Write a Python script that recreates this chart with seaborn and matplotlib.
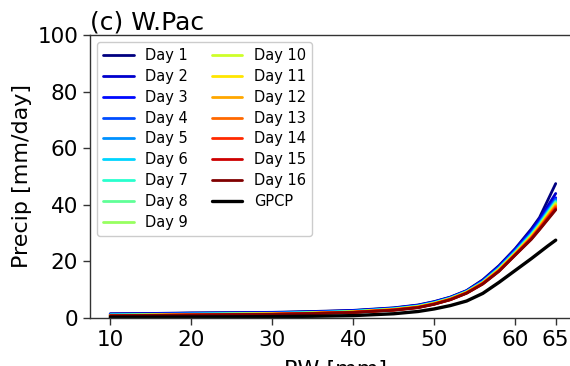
import numpy as np
import pandas as pd
import matplotlib
matplotlib.use("Agg")
import matplotlib.pyplot as plt
import seaborn as sns

pw = [10, 15, 20, 25, 30, 35, 40, 45, 48, 50, 52, 54, 56, 58, 60, 62, 63, 64, 65]

day01 = [1.5, 1.6, 1.8, 1.9, 2.0, 2.3, 2.7, 3.6, 4.6, 5.8, 7.4, 9.7, 13.5, 18.5, 24.5, 31.5, 35.5, 41.5, 47.5]
day02 = [1.4, 1.5, 1.7, 1.8, 1.9, 2.2, 2.6, 3.5, 4.5, 5.7, 7.3, 9.6, 13.3, 18.3, 24.3, 31.0, 35.0, 39.5, 44.0]
day03 = [1.3, 1.4, 1.6, 1.7, 1.8, 2.1, 2.5, 3.4, 4.4, 5.6, 7.2, 9.5, 13.1, 18.0, 24.0, 30.5, 34.2, 38.5, 42.5]
day04 = [1.2, 1.3, 1.5, 1.6, 1.7, 2.0, 2.4, 3.3, 4.3, 5.5, 7.1, 9.4, 12.9, 17.8, 23.7, 30.0, 33.8, 38.0, 42.0]
day05 = [1.1, 1.25, 1.4, 1.55, 1.65, 1.95, 2.35, 3.25, 4.2, 5.4, 7.0, 9.3, 12.8, 17.6, 23.5, 29.8, 33.5, 37.6, 41.5]
day06 = [1.05, 1.2, 1.35, 1.5, 1.6, 1.9, 2.3, 3.2, 4.15, 5.35, 6.95, 9.25, 12.7, 17.5, 23.3, 29.6, 33.2, 37.3, 41.2]
day07 = [1.0, 1.15, 1.3, 1.45, 1.55, 1.85, 2.25, 3.15, 4.1, 5.3, 6.9, 9.2, 12.6, 17.4, 23.1, 29.4, 33.0, 37.0, 41.0]
day08 = [0.95, 1.1, 1.25, 1.4, 1.5, 1.8, 2.2, 3.1, 4.05, 5.25, 6.85, 9.15, 12.5, 17.3, 23.0, 29.2, 32.8, 36.8, 40.8]
day09 = [0.9, 1.05, 1.2, 1.35, 1.45, 1.75, 2.15, 3.05, 4.0, 5.2, 6.8, 9.1, 12.45, 17.2, 22.9, 29.0, 32.6, 36.6, 40.5]
day10 = [0.88, 1.02, 1.18, 1.32, 1.42, 1.72, 2.12, 3.0, 3.95, 5.15, 6.75, 9.05, 12.4, 17.1, 22.8, 28.9, 32.4, 36.4, 40.3]
day11 = [0.85, 1.0, 1.15, 1.3, 1.4, 1.7, 2.1, 2.97, 3.9, 5.1, 6.7, 9.0, 12.35, 17.0, 22.7, 28.8, 32.3, 36.2, 40.0]
day12 = [0.83, 0.98, 1.12, 1.27, 1.37, 1.67, 2.07, 2.93, 3.85, 5.05, 6.65, 8.95, 12.3, 16.9, 22.6, 28.6, 32.1, 36.0, 39.7]
day13 = [0.8, 0.95, 1.1, 1.25, 1.35, 1.65, 2.05, 2.9, 3.8, 5.0, 6.6, 8.9, 12.25, 16.8, 22.5, 28.4, 31.9, 35.7, 39.3]
day14 = [0.78, 0.93, 1.08, 1.22, 1.32, 1.62, 2.02, 2.85, 3.75, 4.95, 6.55, 8.85, 12.2, 16.7, 22.4, 28.2, 31.6, 35.3, 38.9]
day15 = [0.75, 0.9, 1.05, 1.2, 1.3, 1.6, 2.0, 2.8, 3.7, 4.9, 6.5, 8.8, 12.1, 16.6, 22.3, 28.0, 31.4, 35.0, 38.5]
day16 = [0.72, 0.88, 1.02, 1.17, 1.27, 1.57, 1.97, 2.75, 3.65, 4.85, 6.45, 8.75, 12.0, 16.5, 22.2, 27.8, 31.2, 34.7, 38.2]
gpcp = [0.3, 0.33, 0.37, 0.42, 0.5, 0.62, 0.85, 1.5, 2.3, 3.2, 4.4, 6.0, 8.7, 12.6, 16.8, 21.0, 23.2, 25.4, 27.5]

series_names = [f"Day {i}" for i in range(1, 17)] + ["GPCP"]
series_values = [day01, day02, day03, day04, day05, day06, day07, day08,
                 day09, day10, day11, day12, day13, day14, day15, day16, gpcp]
xticks = [10, 20, 30, 40, 50, 60, 65]
yticks = [0, 20, 40, 60, 80, 100]

sns.set_style("ticks")
plt.rcParams['font.family'] = ['DejaVu Sans']
plt.rcParams['text.color'] = 'black'
plt.rcParams['axes.labelcolor'] = 'black'
plt.rcParams['xtick.color'] = 'black'
plt.rcParams['ytick.color'] = 'black'

fig = plt.figure(figsize=(5.7, 3.66), dpi=100)
ax = fig.add_axes([90/570, 48/366, 490/570, 283/366])

jet = plt.get_cmap("jet")
colors = [jet(v) for v in np.linspace(0, 1, 16)] + ["black"]

for name, vals, c in zip(series_names, series_values, colors):
    df = pd.DataFrame({"PW": pw, "Precip": vals})
    sns.lineplot(data=df, x="PW", y="Precip", color=c, label=name, ax=ax,
                 linewidth=2.0 if name != "GPCP" else 2.4, legend=False)

ax.set_xlim(7.5, 68)
ax.set_ylim(0, 100)
ax.set_xticks(xticks)
ax.set_yticks(yticks)
ax.tick_params(labelsize=15.5, length=5, width=1, color="#333333", labelcolor="black")
for s in ax.spines.values():
    s.set_color("#333333")
    s.set_linewidth(1.0)
ax.set_xlabel("PW [mm]", fontsize=16, labelpad=7)
ax.set_ylabel("Precip [mm/day]", fontsize=16)
ax.set_title("(c) W.Pac", loc="left", fontsize=18, pad=4)

ax.legend(ncol=2, loc="upper left", fontsize=10.5, labelspacing=0.4,
          handlelength=2.1, columnspacing=1.6, framealpha=1,
          bbox_to_anchor=(0.0, 1.0), borderaxespad=0.5)

fig.savefig("out.png", dpi=100)
